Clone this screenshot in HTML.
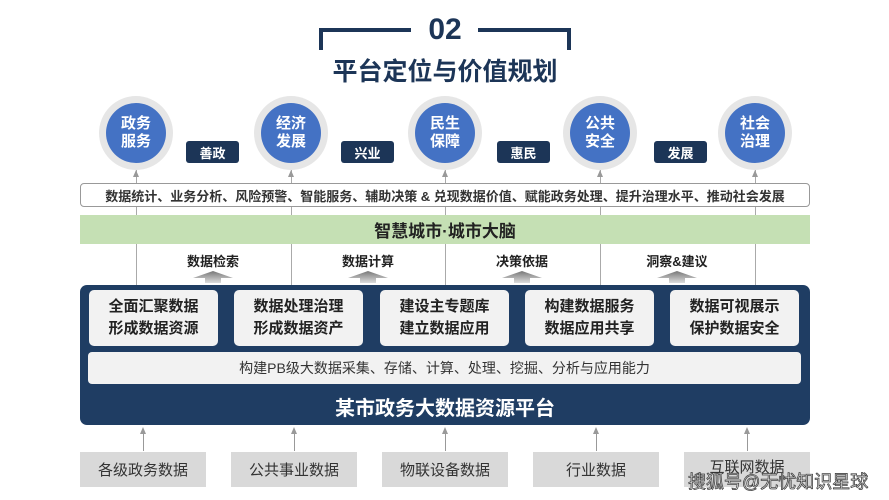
<!DOCTYPE html>
<html><head><meta charset="utf-8">
<style>
*{margin:0;padding:0;box-sizing:border-box}
body{width:889px;height:500px;background:#fff;position:relative;overflow:hidden;font-family:"Liberation Sans","Noto Sans CJK SC",sans-serif;color:#222}
.a{position:absolute}
.c{display:flex;align-items:center;justify-content:center;text-align:center}
.ring{width:74px;height:74px;border-radius:50%;background:#e6e6e6}
.blue{width:60px;height:60px;border-radius:50%;background:#4472c4;color:#fff;font-weight:bold;font-size:15px;line-height:18px}
.tag{width:53px;height:22px;background:#1c3557;color:#fff;font-weight:bold;font-size:13px;border-radius:3px}
.vl{width:1px;background:#aaa}
.lbl{font-weight:bold;font-size:13px;width:100px}
.box{width:129px;height:56px;background:#f2f2f2;border-radius:5px;font-weight:bold;font-size:15px;line-height:22px;color:#222}
.bot{width:126px;height:35px;background:#d9d9d9;font-size:15px;color:#333}
.up{width:1px;height:22px;background:#999}
</style></head><body>
<!-- title -->
<div class="a" style="left:319px;top:28px;width:92px;height:4px;background:#1c3557"></div>
<div class="a" style="left:319px;top:28px;width:4px;height:22px;background:#1c3557"></div>
<div class="a" style="left:478px;top:28px;width:93px;height:4px;background:#1c3557"></div>
<div class="a" style="left:567px;top:28px;width:4px;height:22px;background:#1c3557"></div>
<div class="a c" style="left:410px;top:12px;width:70px;height:36px;font-size:30px;font-weight:bold;color:#1c3557">02</div>
<div class="a c" style="left:300px;top:52px;width:290px;height:36px;font-size:25px;font-weight:bold;color:#1c3557">平台定位与价值规划</div>

<!-- vertical lines -->
<div class="a vl" style="left:136px;top:170px;height:115px"></div>
<div class="a vl" style="left:291px;top:170px;height:115px"></div>
<div class="a vl" style="left:445px;top:170px;height:115px"></div>
<div class="a vl" style="left:600px;top:170px;height:115px"></div>
<div class="a vl" style="left:755px;top:170px;height:115px"></div>

<!-- circles -->
<div class="a ring" style="left:99px;top:96px"></div><div class="a c blue" style="left:106px;top:103px">政务<br>服务</div>
<div class="a ring" style="left:254px;top:96px"></div><div class="a c blue" style="left:261px;top:103px">经济<br>发展</div>
<div class="a ring" style="left:408px;top:96px"></div><div class="a c blue" style="left:415px;top:103px">民生<br>保障</div>
<div class="a ring" style="left:563px;top:96px"></div><div class="a c blue" style="left:570px;top:103px">公共<br>安全</div>
<div class="a ring" style="left:718px;top:96px"></div><div class="a c blue" style="left:725px;top:103px">社会<br>治理</div>
<div class="a c tag" style="left:186px;top:141px">善政</div>
<div class="a c tag" style="left:341px;top:141px">兴业</div>
<div class="a c tag" style="left:497px;top:141px">惠民</div>
<div class="a c tag" style="left:654px;top:141px">发展</div>

<div class="a c" style="left:80px;top:183px;width:730px;height:24px;background:#fff;border:1px solid #999;border-radius:4px;font-size:13px;font-weight:bold;color:#333">数据统计、业务分析、风险预警、智能服务、辅助决策 &amp; 兑现数据价值、赋能政务处理、提升治理水平、推动社会发展</div>
<div class="a c" style="left:80px;top:215px;width:730px;height:29px;background:#c5e0b4;font-size:17px;font-weight:bold;color:#222">智慧城市·城市大脑</div>

<div class="a c lbl" style="left:163px;top:250px;height:20px">数据检索</div>
<div class="a c lbl" style="left:318px;top:250px;height:20px">数据计算</div>
<div class="a c lbl" style="left:472px;top:250px;height:20px">决策依据</div>
<div class="a c lbl" style="left:627px;top:250px;height:20px">洞察&amp;建议</div>
<svg class="a" style="left:0;top:0" width="889" height="500">
<defs><linearGradient id="g" x1="0" y1="0" x2="0" y2="1"><stop offset="0" stop-color="#777"/><stop offset="1" stop-color="#ddd"/></linearGradient></defs>
<g fill="url(#g)">
<polygon points="193,278 213,271 233,278 221,278 221,283 205,283 205,278"/>
<polygon points="348,278 368,271 388,278 376,278 376,283 360,283 360,278"/>
<polygon points="502,278 522,271 542,278 530,278 530,283 514,283 514,278"/>
<polygon points="657,278 677,271 697,278 685,278 685,283 669,283 669,278"/>
</g>
<g fill="#999">
<polygon points="143,427 140,434 146,434"/><polygon points="294,427 291,434 297,434"/><polygon points="445,427 442,434 448,434"/><polygon points="596,427 593,434 599,434"/><polygon points="747,427 744,434 750,434"/>
<polygon points="136,170 133,177 139,177"/><polygon points="291,170 288,177 294,177"/><polygon points="445,170 442,177 448,177"/><polygon points="600,170 597,177 603,177"/><polygon points="755,170 752,177 758,177"/>
</g>
</svg>

<!-- panel -->
<div class="a" style="left:80px;top:285px;width:730px;height:140px;background:#1f3d63;border-radius:7px"></div>
<div class="a c box" style="left:89px;top:290px">全面汇聚数据<br>形成数据资源</div>
<div class="a c box" style="left:234px;top:290px">数据处理治理<br>形成数据资产</div>
<div class="a c box" style="left:380px;top:290px">建设主专题库<br>建立数据应用</div>
<div class="a c box" style="left:525px;top:290px">构建数据服务<br>数据应用共享</div>
<div class="a c box" style="left:670px;top:290px">数据可视展示<br>保护数据安全</div>
<div class="a c" style="left:88px;top:352px;width:713px;height:32px;background:#f2f2f2;border-radius:4px;font-size:14px;color:#333">构建PB级大数据采集、存储、计算、处理、挖掘、分析与应用能力</div>
<div class="a c" style="left:80px;top:390px;width:730px;height:32px;color:#fff;font-size:20px;font-weight:bold">某市政务大数据资源平台</div>

<div class="a up" style="left:143px;top:429px"></div>
<div class="a up" style="left:294px;top:429px"></div>
<div class="a up" style="left:445px;top:429px"></div>
<div class="a up" style="left:596px;top:429px"></div>
<div class="a up" style="left:747px;top:429px"></div>
<div class="a c bot" style="left:80px;top:452px">各级政务数据</div>
<div class="a c bot" style="left:231px;top:452px">公共事业数据</div>
<div class="a c bot" style="left:382px;top:452px">物联设备数据</div>
<div class="a c bot" style="left:533px;top:452px">行业数据</div>
<div class="a c bot" style="left:684px;top:452px;padding-bottom:6px">互联网数据</div>
<div class="a" style="left:688px;top:468px;font-size:18px;color:#fff;-webkit-text-stroke:0.8px #444;white-space:nowrap">搜狐号@无忧知识星球</div>
</body></html>
